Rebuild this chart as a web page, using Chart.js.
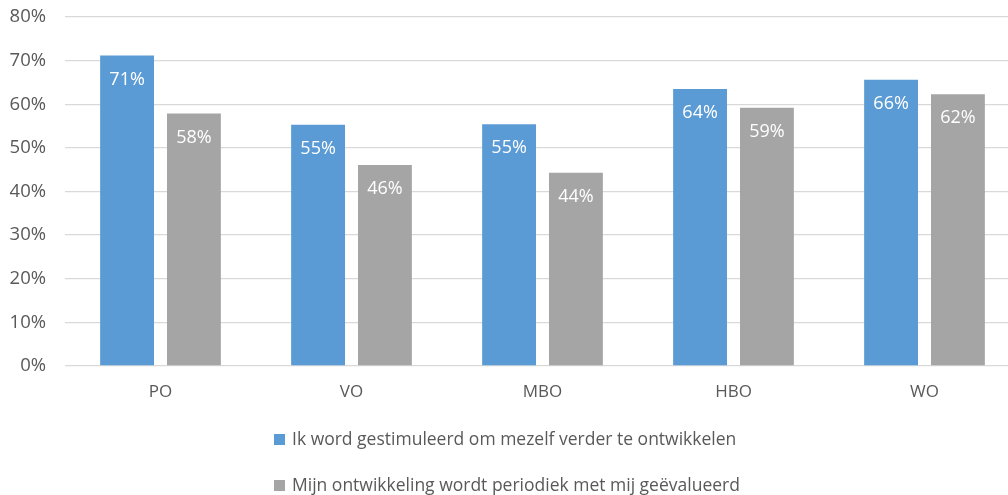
<!DOCTYPE html>
<html>
<head>
<meta charset="utf-8">
<script src="https://cdn.jsdelivr.net/npm/chart.js@4/dist/chart.umd.min.js"></script>
<style>
  html, body { margin: 0; padding: 0; background: #fff; overflow: hidden; }
  #wrap { position: relative; width: 1020px; height: 495px; }
</style>
</head>
<body>
<div id="wrap"><canvas id="chartCanvas"></canvas></div>
<script>
// --- Data ---
const categories = ["PO", "VO", "MBO", "HBO", "WO"];
const seriesNames = [
  "Ik word gestimuleerd om mezelf verder te ontwikkelen",
  "Mijn ontwikkeling wordt periodiek met mij geëvalueerd"
];
const stimulated = [71.2, 55.3, 55.4, 63.5, 65.6];
const evaluated = [57.9, 46.1, 44.3, 59.2, 62.3];
const yTicks = [0, 10, 20, 30, 40, 50, 60, 70, 80];

const FONT = "'Open Sans', sans-serif";
const TEXT = "#595959";

// --- Value labels inside the bars ---
const barLabels = {
  id: "barLabels",
  afterDatasetsDraw(chart) {
    const ctx = chart.ctx;
    ctx.save();
    ctx.font = "18px " + FONT;
    ctx.fillStyle = "#fff";
    ctx.textAlign = "center";
    ctx.textBaseline = "middle";
    chart.data.datasets.forEach((ds, i) => {
      chart.getDatasetMeta(i).data.forEach((bar, j) => {
        ctx.fillText(Math.round(ds.data[j]) + "%", bar.x, bar.y + 24);
      });
    });
    ctx.restore();
  }
};

// --- Legend, one item per line ---
const stackedLegend = {
  id: "stackedLegend",
  afterDraw(chart) {
    const ctx = chart.ctx;
    ctx.save();
    ctx.font = "17.5px " + FONT;
    ctx.textBaseline = "middle";
    ctx.textAlign = "left";
    chart.data.datasets.forEach((ds, i) => {
      const y = 440 + i * 46;
      ctx.fillStyle = ds.backgroundColor;
      ctx.fillRect(274, y - 6, 11, 11);
      ctx.fillStyle = TEXT;
      ctx.fillText(ds.label, 292, y);
    });
    ctx.restore();
  }
};

const canvas = document.getElementById("chartCanvas").getContext("2d");

new Chart(canvas, {
  type: "bar",
  data: {
    labels: categories,
    datasets: [
      { label: seriesNames[0], data: stimulated, backgroundColor: "#5b9bd5" },
      { label: seriesNames[1], data: evaluated, backgroundColor: "#a5a5a5" }
    ]
  },
  options: {
    responsive: true,
    maintainAspectRatio: false,
    animation: false,
    categoryPercentage: 0.70,
    barPercentage: 0.806,
    layout: { padding: { top: 17, bottom: 89, left: 0, right: 0 } },
    plugins: {
      legend: { display: false },
      tooltip: { enabled: false }
    },
    scales: {
      x: {
        grid: { display: false },
        border: { display: false },
        ticks: { color: TEXT, font: { family: FONT, size: 17 }, padding: 8 },
        afterFit: s => { s.height = 40; s.paddingLeft = 0; s.paddingRight = 0; }
      },
      y: {
        min: 0,
        max: 80,
        afterBuildTicks: s => {
          const all = [];
          for (let v = 0; v <= 80; v += 5) all.push({ value: v });
          s.ticks = all;
        },
        grid: {
          color: c => (c.tick && c.tick.value % 10 === 0 ? "#d9d9d9" : "#f0f0f0"),
          lineWidth: 1.3,
          drawTicks: false
        },
        border: { display: false },
        ticks: {
          color: TEXT,
          font: { family: FONT, size: 18.5 },
          padding: 19,
          callback: v => (yTicks.includes(v) ? v + "%" : "")
        },
        afterFit: s => { s.width = 65; s.paddingTop = 0; s.paddingBottom = 0; }
      }
    }
  },
  plugins: [barLabels, stackedLegend]
});
</script>
</body>
</html>
